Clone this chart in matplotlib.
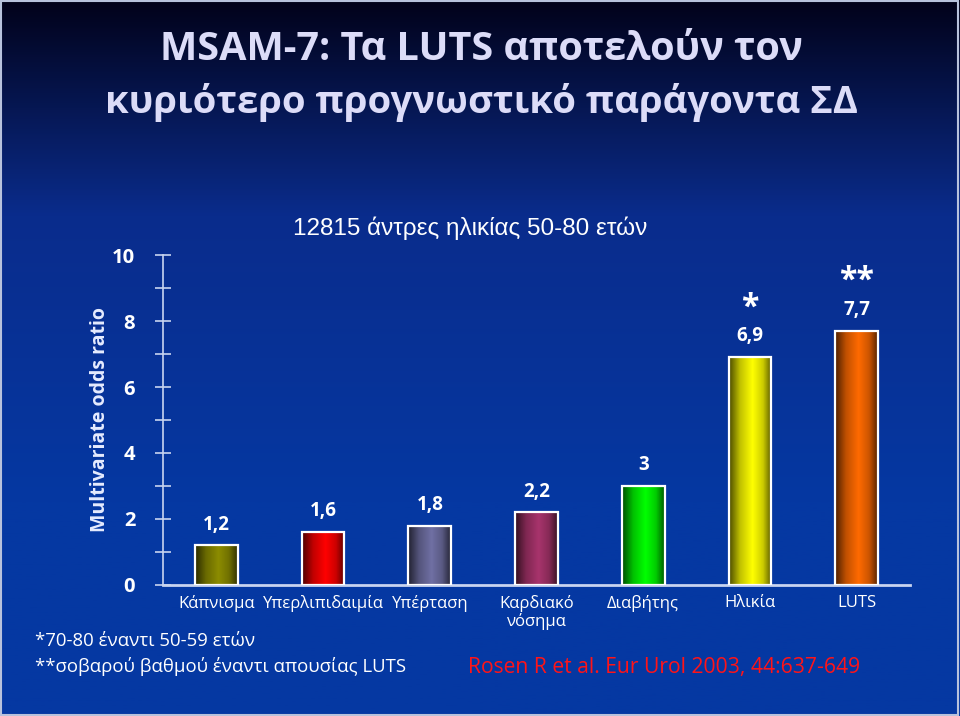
import matplotlib.pyplot as plt
import numpy as np
from matplotlib.colors import LinearSegmentedColormap, to_rgb
from matplotlib.patches import Rectangle

# odds ratios per risk factor (MSAM-7)
categories = ['Κάπνισμα', 'Υπερλιπιδαιμία', 'Υπέρταση', 'Καρδιακό\nνόσημα',
              'Διαβήτης', 'Ηλικία', 'LUTS']
odds = [1.2, 1.6, 1.8, 2.2, 3.0, 6.9, 7.7]
value_labels = ['1,2', '1,6', '1,8', '2,2', '3', '6,9', '7,7']
stars = ['', '', '', '', '', '*', '**']
bar_colors = ['#8c8c00', '#ff0000', '#7070a4', '#a8346c', '#00ff00', '#ffff00', '#ff6a00']

FONT = ['Open Sans', 'DejaVu Sans']
WHITE = '#ffffff'

fig = plt.figure(figsize=(9.6, 7.16), dpi=100)

# background: dark navy at top fading into royal blue
bg = fig.add_axes([0, 0, 1, 1], zorder=-10)
bg.axis('off')
top = np.array(to_rgb('#02021a'))
mid = np.array(to_rgb('#0a2c8c'))
bot = np.array(to_rgb('#0538a2'))
yy = np.linspace(0, 1, 300)[:, None]
grad = np.where(yy < 0.3, top + (mid - top) * (yy / 0.3),
                mid + (bot - mid) * np.clip((yy - 0.3) / 0.4, 0, 1))
bg.imshow(grad.reshape(300, 1, 3), aspect='auto', extent=(0, 1, 0, 1),
          origin='upper')
bg.set_xlim(0, 1)
bg.set_ylim(0, 1)
# thin slide frame
bg.add_patch(Rectangle((0.001, 0.002), 0.997, 0.996, transform=bg.transAxes,
                       facecolor='none', edgecolor='#b8c2dc', linewidth=1.5))

ax = fig.add_axes([163 / 960, 131 / 716, 747 / 960, 330 / 716])
ax.patch.set_alpha(0)

x = np.arange(len(odds))
w = 0.4
for xi, h, c in zip(x, odds, bar_colors):
    base = np.array(to_rgb(c))
    cmap = LinearSegmentedColormap.from_list(
        'b', [(0, base * 0.3), (0.25, base * 0.75), (0.55, base), (0.8, base * 0.8), (1, base * 0.35)])
    ax.imshow(np.linspace(0, 1, 64)[None, :], cmap=cmap, aspect='auto',
              extent=(xi - w / 2, xi + w / 2, 0, h), zorder=2)
bars = ax.bar(x, odds, width=w, facecolor='none', edgecolor=WHITE, linewidth=1.6, zorder=3)

for xi, h, lab, st in zip(x, odds, value_labels, stars):
    ax.text(xi, h + 0.33, lab, ha='center', va='bottom', color=WHITE,
            fontsize=13.5, fontweight='bold', family=FONT)
    if st:
        ax.text(xi, h + 1.0, st, ha='center', va='bottom', color=WHITE,
                fontsize=23, fontweight='bold', family=FONT)

ax.set_xlim(-0.5, 6.5)
ax.set_ylim(0, 10)
ax.set_xticks(x)
ax.set_xticklabels(categories, family=FONT, fontsize=12, color=WHITE, linespacing=1.1)
ax.tick_params(axis='x', length=0, pad=7)
ax.set_yticks([0, 2, 4, 6, 8, 10])
ax.set_yticks([1, 3, 5, 7, 9], minor=True)
ax.set_yticklabels(['0', '2', '4', '6', '8', '10'], family=FONT, fontsize=14.5,
                   fontweight='bold', color=WHITE)
ax.tick_params(axis='y', which='both', direction='inout', length=12, width=1.2,
               color='#c8d4f0', pad=14)
for s in ['top', 'right']:
    ax.spines[s].set_visible(False)
ax.spines['left'].set_color('#c8d4f0')
ax.spines['left'].set_linewidth(1.2)
ax.spines['bottom'].set_color('#c8d4f0')
ax.spines['bottom'].set_linewidth(2)
ax.set_ylim(0, 10)

fig.text(100 / 960, 1 - 420 / 716, 'Multivariate odds ratio', rotation=90,
         ha='center', va='center', color='#e6ecff', fontsize=14, fontweight='bold',
         family=FONT)

# title
fig.text(481 / 960, 1 - 50 / 716, 'MSAM-7: Τα LUTS αποτελούν τον', ha='center',
         va='center', color='#dcdcf8', fontsize=28.5, fontweight='bold', family=FONT)
fig.text(481 / 960, 1 - 103 / 716, 'κυριότερο προγνωστικό παράγοντα ΣΔ', ha='center',
         va='center', color='#dcdcf8', fontsize=27.5, fontweight='bold', family=FONT)

fig.text(470 / 960, 1 - 228 / 716, '12815 άντρες ηλικίας 50-80 ετών', ha='center',
         va='center', color=WHITE, fontsize=17.5, family=['Liberation Sans', 'DejaVu Sans'])

fig.text(35 / 960, 1 - 641 / 716, '*70-80 έναντι 50-59 ετών', ha='left', va='center',
         color=WHITE, fontsize=13.4, family=FONT)
fig.text(35 / 960, 1 - 667 / 716, '**σοβαρού βαθμού έναντι απουσίας LUTS', ha='left',
         va='center', color=WHITE, fontsize=13.4, family=FONT)
fig.text(468 / 960, 1 - 667 / 716, 'Rosen R et al. Eur Urol 2003, 44:637-649', ha='left',
         va='center', color='#ff1418', fontsize=15.2, family=FONT)

fig.savefig('out.png', dpi=100)
